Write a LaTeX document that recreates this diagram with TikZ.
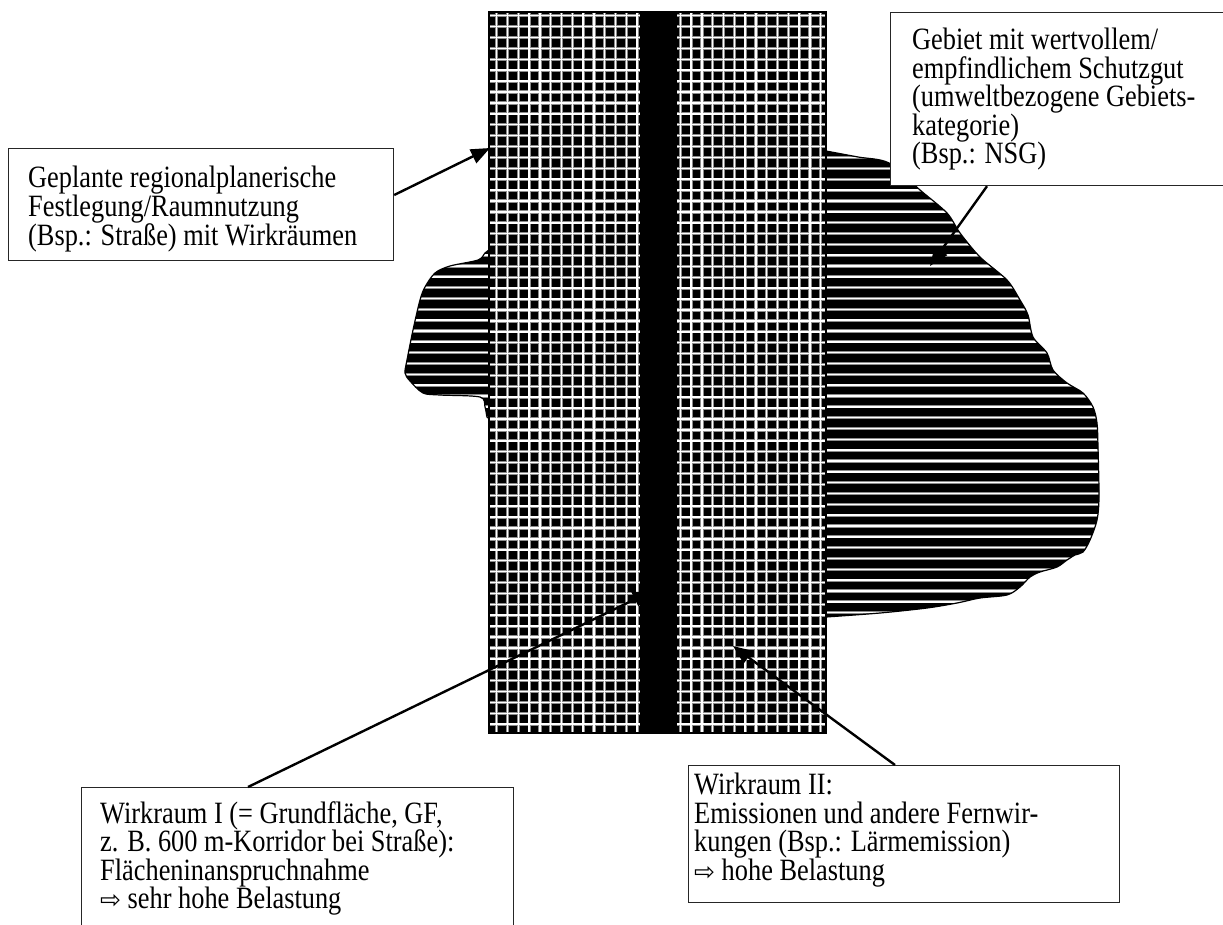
\documentclass[tikz,border=0pt]{standalone}
\usepackage{fontspec}
\newfontfamily\lab[FakeStretch=0.85]{Liberation Serif}
\newfontfamily\symf{DejaVu Sans}
\usetikzlibrary{arrows.meta,calc}
\newcommand{\arr}{{\symf\fontsize{25}{29}\selectfont ⇨}}
\begin{document}
\begin{tikzpicture}[x=1pt,y=-1pt,
  box/.style={draw=black!85, line width=1.2pt, fill=white, rectangle, inner sep=0pt, anchor=north west},
  txt/.style={inner sep=0pt, anchor=north west, align=left, font=\lab\fontsize{31}{28.5}\selectfont},
  conn/.style={line width=2.4pt, -{Triangle[length=19pt,width=15pt]}},
  halo/.style={draw=black!45, line width=3.2pt},
  core/.style={draw=white, line width=1.5pt}
  ]
\useasboundingbox (0,0) rectangle (1223,924);
\fill[white] (0,0) rectangle (1223,924);

% protected area (blob) with horizontal stripes
\def\blob{plot[smooth,tension=0.5] coordinates {(489,250) (485,253) (478,260) (450,266) (435,273) (425,287) (420,300) (413,330) (407,360) (405,373) (410,381) (423,393) (440,395) (480,397) (485,407) (487,417) (489,418)} -- plot[smooth,tension=0.5] coordinates {(826,617) (880,613) (927,608) (957,603) (980,598) (1007,595) (1020,587) (1030,577) (1040,572) (1057,567) (1067,560) (1075,555) (1083,552) (1090,540) (1097,520) (1099,497) (1098,447) (1097,423) (1093,407) (1083,393) (1067,383) (1053,370) (1047,353) (1033,337) (1028,315) (1020,300) (1007,280) (980,257) (960,233) (947,213) (920,190) (889,163) (858,157) (826,151)} -- cycle}
\fill[black] \blob;
\begin{scope}
  \clip \blob;
  \foreach \i in {0,...,44} {
    \draw[halo] (390,{146.9+10.83*\i}) -- (1110,{146.9+10.83*\i});
    \draw[core] (390,{146.9+10.83*\i}) -- (1110,{146.9+10.83*\i});
  }
\end{scope}
\draw[black, line width=1.2pt] \blob;

% planned road with grid area
\begin{scope}
  \clip (489,12) rectangle (826,733);
  \fill[black] (489,12) rectangle (826,733);
  \foreach \k in {0,...,30} {
    \draw[halo] ({496.7+10.8*\k},12) -- ({496.7+10.8*\k},733);
  }
  \foreach \k in {0,...,66} {
    \draw[halo] (489,{15.7+10.9*\k}) -- (826,{15.7+10.9*\k});
  }
  \foreach \k in {0,...,30} {
    \draw[core] ({496.7+10.8*\k},12) -- ({496.7+10.8*\k},733);
  }
  \foreach \k in {0,...,66} {
    \draw[core] (489,{15.7+10.9*\k}) -- (826,{15.7+10.9*\k});
  }
\end{scope}
\draw[black, line width=2pt] (489,12) rectangle (826,733);
\fill[black] (640,13) rectangle (677,734);

% boxes
\node[box, minimum width=385pt, minimum height=112pt] (boxA) at (8,148) {};
\node[txt] (txtA) at (28,166) {Geplante regionalplanerische\\Festlegung/Raumnutzung\\(Bsp.: Straße) mit Wirkräumen};

\node[box, minimum width=333pt, minimum height=173pt] (boxB) at (890,12) {};
\node[txt] (txtB) at (912,28) {Gebiet mit wertvollem/\\empfindlichem Schutzgut\\(umweltbezogene Gebiets-\\kategorie)\\(Bsp.: NSG)};

\node[box, minimum width=432pt, minimum height=170pt] (boxC) at (81,787) {};
\node[txt] (txtC) at (100,801) {Wirkraum I (= Grundfläche, GF,\\z. B. 600 m-Korridor bei Straße):\\Flächeninanspruchnahme\\\arr\ sehr hohe Belastung};

\node[box, minimum width=431pt, minimum height=137pt] (boxD) at (688,765) {};
\node[txt] (txtD) at (694,773) {Wirkraum II:\\Emissionen und andere Fernwir-\\kungen (Bsp.: Lärmemission)\\\arr\ hohe Belastung};

% connectors
\coordinate (tipA) at (490,148);
\coordinate (tipB) at (930,266);
\coordinate (tipC) at (652,591);
\coordinate (tipD) at (733,646);
\draw[conn] ($(boxA.north east)+(0,47)$) -- (tipA);
\draw[conn] ($(boxB.south west)+(97,0)$) -- (tipB);
\draw[conn] ($(boxC.north west)+(167,0)$) -- (tipC);
\draw[conn] ($(boxD.north west)+(207,0)$) -- (tipD);
\end{tikzpicture}
\end{document}
